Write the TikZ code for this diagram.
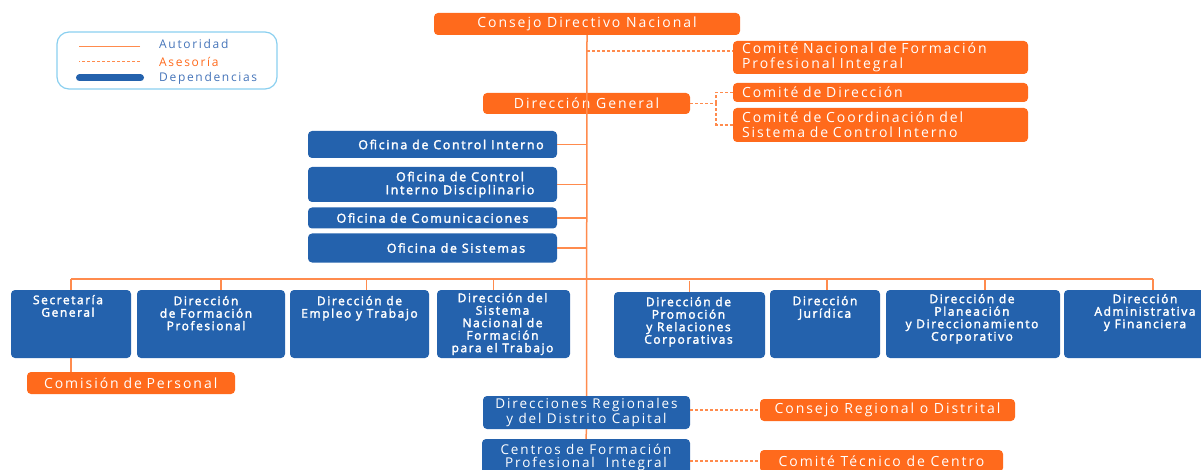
\documentclass[tikz,border=0pt]{standalone}
\usepackage{fontspec}
\setmainfont{Open Sans}[LetterSpace=14]
\newfontfamily\boldish{Open Sans}[FakeBold=2.4,LetterSpace=13]

\definecolor{senaor}{HTML}{FF6A1C}
\definecolor{lineor}{HTML}{FF8B4D}
\definecolor{depblue}{HTML}{2462AD}
\definecolor{legblue}{HTML}{8ACFEF}
\definecolor{legtext}{HTML}{4574B9}

\tikzset{
  orgbox/.style={fill=senaor, rounded corners=4pt, text=white, inner sep=0pt,
    font=\fontsize{14}{15}\selectfont},
  orgleft/.style={orgbox, align=left, inner xsep=9pt, text width=#1},
  depbox/.style={fill=depblue, rounded corners=4pt, text=white, inner sep=0pt},
  deptxt/.style={text=white, align=center, inner sep=0pt,
    font=\boldish\fontsize{12}{12.5}\selectfont},
  ofitxt/.style={deptxt, font=\boldish\fontsize{12.5}{13}\selectfont},
  regtxt/.style={align=center, font=\fontsize{13.5}{13}\selectfont},
  aut/.style={draw=lineor, line width=1.5pt},
  ases/.style={draw=lineor, line width=1.2pt, dash pattern=on 3pt off 2pt},
  legtxt/.style={anchor=west, inner sep=0pt, font=\fontsize{12}{13}\selectfont},
}

\begin{document}
\begin{tikzpicture}[x=1pt, y=-1pt]
    \useasboundingbox (0,0) rectangle (1201,470);

    % legend
    \node[draw=legblue, line width=1.2pt, rounded corners=12pt, minimum width=220, minimum height=57] (leg) at (167,60.5) {};
    \node[legtxt, text=legtext] (lautor) at (159,44.5) {Autoridad};
    \node[legtxt, text=senaor] (lases) at (159,61.5) {Asesoría};
    \node[legtxt, text=legtext] (ldep) at (159,78) {Dependencias};
    \draw[aut] ([xshift=-19]lautor.west |- 0,46.5) -- ++(-61,0);
    \draw[ases, line width=0.8pt] ([xshift=-19]lases.west) -- ++(-61,0);
    \draw[depblue, line width=7pt, line cap=round] ([xshift=-18.5]ldep.west) -- ++(-61,0);

    % direccion
    \node[orgbox, minimum width=306, minimum height=22] (cdn) at (587,24) {Consejo Directivo Nacional};
    \node[orgleft=277, minimum height=33] (cnf) at (880.5,57.5) {Comité Nacional de Formación\\Profesional Integral};
    \node[orgbox, minimum width=207, minimum height=21] (dg) at (586.5,103.5) {Dirección General};
    \node[orgleft=277, minimum height=19] (cdir) at (880.5,92.5) {Comité de Dirección};
    \node[orgleft=277, minimum height=34] (ccoord) at (880.5,125) {Comité de Coordinación del\\Sistema de Control Interno};

    % oficinas
    \node[depbox, minimum width=249, minimum height=27, label={[ofitxt, xshift=18.5pt]center:Oficina de Control Interno}] (oci) at (432.5,144.5) {};
    \node[depbox, minimum width=249, minimum height=35, label={[ofitxt, xshift=27.5pt]center:{Oficina de Control\\Interno Disciplinario}}] (ocid) at (432.5,184.5) {};
    \node[depbox, minimum width=249, minimum height=21, label={[ofitxt]center:Oficina de Comunicaciones}] (ocom) at (432.5,218) {};
    \node[depbox, minimum width=249, minimum height=29, label={[ofitxt, xshift=23.5pt]center:Oficina de Sistemas}] (osis) at (432.5,248) {};

    % direcciones
    \node[depbox, minimum width=120, minimum height=68, label={[deptxt, anchor=north, xshift=-3pt, yshift=-5pt]north:{Secretaría\\General}}] (sg) at (71,324) {};
    \node[depbox, minimum width=148, minimum height=68, label={[deptxt, anchor=north, xshift=-5pt, yshift=-6pt]north:{Dirección\\de Formación\\Profesional}}] (dfp) at (211,324) {};
    \node[depbox, minimum width=139, minimum height=68, label={[deptxt, anchor=north, yshift=-6pt]north:{Dirección de\\Empleo y Trabajo}}] (det) at (359.5,324) {};
    \node[depbox, minimum width=133, minimum height=68, label={[deptxt, anchor=north, xshift=-1pt, yshift=-3pt]north:{Dirección del\\Sistema\\Nacional de\\Formación\\para el Trabajo}}] (dsn) at (503.5,324) {};
    \node[depbox, minimum width=151, minimum height=66, label={[deptxt, anchor=north, xshift=-1pt, yshift=-5pt]north:{Dirección de\\Promoción\\y Relaciones\\Corporativas}}] (dpr) at (689.5,325) {};
    \node[depbox, minimum width=110, minimum height=68, label={[deptxt, anchor=north, yshift=-6pt]north:{Dirección\\Jurídica}}] (dj) at (825,324) {};
    \node[depbox, minimum width=174, minimum height=68, label={[deptxt, anchor=north, xshift=-1pt, yshift=-4pt]north:{Dirección de\\Planeación\\y Direccionamiento\\Corporativo}}] (dpl) at (973,324) {};
    \node[depbox, minimum width=148, minimum height=68, label={[deptxt, anchor=north, xshift=7pt, yshift=-4pt]north:{Dirección\\Administrativa\\y Financiera}}] (daf) at (1138,324) {};

    \node[orgleft=174, minimum height=22, inner xsep=17pt] (cper) at (131,383) {Comisión de Personal};

    % regionales
    \node[depbox, regtxt, minimum width=207, minimum height=33] (dr) at (586.5,412.5) {Direcciones Regionales\\y del Distrito Capital};
    \node[orgbox, minimum width=255, minimum height=22] (crd) at (887.5,410) {Consejo Regional o Distrital};
    \node[depbox, regtxt, minimum width=208, minimum height=37] (cfp) at (586,457.5) {Centros de Formación\\Profesional\ \ Integral};
    \node[orgbox, minimum width=243, minimum height=22] (ctc) at (881.5,461) {Comité Técnico de Centro};

    % lineas de autoridad
    \coordinate (busl) at (71,279);
    \coordinate (busr) at (1153,279);
    \draw[aut] (cdn.south) -- (dr.north);
    \draw[aut] (dr.south) -- (cfp.north);
    \draw[aut] (busl) -- (busr);
    \foreach \n in {oci,ocid,ocom,osis}
        \draw[aut] (\n.east) -- (\n.east -| cdn.south);
    \foreach \n/\d in {sg/0,dfp/10,det/7,dsn/-10,dpr/0,dj/2,dpl/12,daf/15}
        \draw[aut] ([xshift=\d pt]\n.north) -- ++(0,-11);
    \draw[aut] (sg.south) -- (sg.south |- cper.north);

    % lineas de asesoria
    \coordinate (dgj) at (716,103.5);
    \draw[ases] (cdn.south |- 0,51) -- ([yshift=6.5pt]cnf.west);
    \draw[ases] (dg.east) -- (dgj);
    \draw[ases] (dgj) |- (cdir.west);
    \draw[ases] (dgj) |- (ccoord.west);
    \draw[ases] (dr.east |- crd.west) -- (crd.west);
    \draw[ases] (cfp.east |- ctc.west) -- (ctc.west);

\end{tikzpicture}
\end{document}
